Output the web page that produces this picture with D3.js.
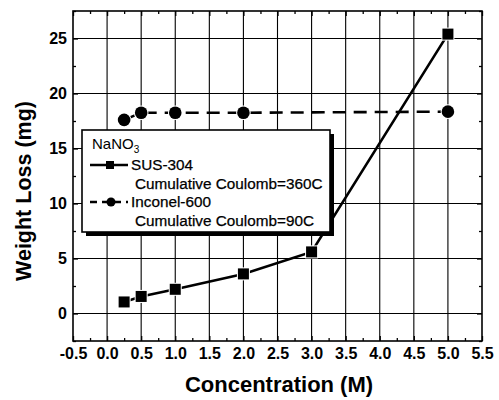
<!DOCTYPE html>
<html>
<head>
<meta charset="utf-8">
<script src="https://cdn.jsdelivr.net/npm/d3@7"></script>
<style>
  body { margin: 0; background: #fff; }
  svg { font-family: "Liberation Sans", Arial, sans-serif; }
</style>
</head>
<body>
<script>
// data
const susX = [0.25, 0.5, 1.0, 2.0, 3.0, 5.0];
const susY = [1.05, 1.55, 2.2, 3.6, 5.6, 25.4];
const incX = [0.25, 0.5, 1.0, 2.0, 5.0];
const incY = [17.6, 18.25, 18.25, 18.25, 18.35];
const xTicks = [-0.5, 0.0, 0.5, 1.0, 1.5, 2.0, 2.5, 3.0, 3.5, 4.0, 4.5, 5.0, 5.5];
const yTicks = [0, 5, 10, 15, 20, 25];
const legendLines = ['SUS-304', 'Cumulative Coulomb=360C', 'Inconel-600', 'Cumulative Coulomb=90C'];

const width = 499, height = 400;
const margin = {top: 11, right: 17, bottom: 59, left: 73};

const svg = d3.select('body').append('svg')
    .attr('width', width)
    .attr('height', height);

const w = width - margin.left - margin.right;
const h = height - margin.top - margin.bottom;

const x = d3.scaleLinear().domain([-0.5, 5.5]).range([0, w]);
const y = d3.scaleLinear().domain([-2.5, 27.5]).range([h, 0]);

const g = svg.append('g')
    .attr('transform', 'translate(' + margin.left + ',' + margin.top + ')');

// grid
g.append('g')
    .selectAll('line')
    .data(xTicks.slice(1, -1))
    .enter().append('line')
    .attr('x1', d => x(d)).attr('x2', d => x(d))
    .attr('y1', 0).attr('y2', h)
    .attr('stroke', '#000').attr('stroke-width', 1.1);

g.append('g')
    .selectAll('line')
    .data(yTicks)
    .enter().append('line')
    .attr('x1', 0).attr('x2', w)
    .attr('y1', d => y(d)).attr('y2', d => y(d))
    .attr('stroke', '#000').attr('stroke-width', 1.1);

// axes with inward ticks
const xMinor = d3.range(-0.25, 5.5, 0.5);
const yMinor = d3.range(-2.5, 27.6, 5);
const fmt = d => d3.format('.1f')(d).replace('\u2212', '-');

g.append('g')
    .attr('class', 'axis axis--x')
    .attr('transform', 'translate(0,' + h + ')')
    .call(d3.axisBottom(x).tickValues(xTicks).tickFormat(fmt).tickSizeInner(-5).tickSizeOuter(0).tickPadding(7));

g.append('g')
    .attr('transform', 'translate(0,' + h + ')')
    .call(d3.axisBottom(x).tickValues(xMinor).tickFormat('').tickSizeInner(-3).tickSizeOuter(0));

g.append('g')
    .call(d3.axisTop(x).tickValues(xTicks).tickFormat('').tickSizeInner(-5).tickSizeOuter(0));

g.append('g')
    .call(d3.axisTop(x).tickValues(xMinor).tickFormat('').tickSizeInner(-3).tickSizeOuter(0));

g.append('g')
    .attr('class', 'axis axis--y')
    .call(d3.axisLeft(y).tickValues(yTicks).tickSizeInner(-5).tickSizeOuter(0).tickPadding(6));

g.append('g')
    .call(d3.axisLeft(y).tickValues(yMinor).tickFormat('').tickSizeInner(-3).tickSizeOuter(0));

g.append('g')
    .attr('transform', 'translate(' + w + ',0)')
    .call(d3.axisRight(y).tickValues(yTicks).tickFormat('').tickSizeInner(-5).tickSizeOuter(0));

g.append('g')
    .attr('transform', 'translate(' + w + ',0)')
    .call(d3.axisRight(y).tickValues(yMinor).tickFormat('').tickSizeInner(-3).tickSizeOuter(0));

g.selectAll('.domain').attr('stroke', 'none');
g.selectAll('.tick line').attr('stroke', '#000').attr('stroke-width', 1.3);
g.selectAll('.axis text')
    .attr('font-size', 16)
    .attr('font-weight', 'bold')
    .attr('fill', '#000');

g.append('rect')
    .attr('width', w).attr('height', h)
    .attr('fill', 'none').attr('stroke', '#000').attr('stroke-width', 1.6);

// series
const sus = susX.map((d, i) => ({x: d, y: susY[i]}));
const inc = incX.map((d, i) => ({x: d, y: incY[i]}));

const line = d3.line().x(d => x(d.x)).y(d => y(d.y));

g.append('path')
    .datum(inc)
    .attr('d', line)
    .attr('fill', 'none')
    .attr('stroke', '#000')
    .attr('stroke-width', 2.6)
    .attr('stroke-dasharray', '13,8');

g.append('path')
    .datum(sus)
    .attr('d', line)
    .attr('fill', 'none')
    .attr('stroke', '#000')
    .attr('stroke-width', 2.6);

g.selectAll('.sq')
    .data(sus)
    .enter().append('rect')
    .attr('class', 'sq')
    .attr('x', d => x(d.x) - 5.5)
    .attr('y', d => y(d.y) - 5.5)
    .attr('width', 11).attr('height', 11)
    .attr('fill', '#000')
    .attr('stroke', '#fff').attr('stroke-width', 2)
    .attr('paint-order', 'stroke');

g.selectAll('.dot')
    .data(inc)
    .enter().append('circle')
    .attr('class', 'dot')
    .attr('cx', d => x(d.x))
    .attr('cy', d => y(d.y))
    .attr('r', 6.3)
    .attr('fill', '#000')
    .attr('stroke', '#fff').attr('stroke-width', 2)
    .attr('paint-order', 'stroke');

// legend
const lg = svg.append('g').attr('transform', 'translate(82,130)');
lg.append('rect')
    .attr('x', 4).attr('y', 4).attr('width', 248).attr('height', 102)
    .attr('fill', '#000');
lg.append('rect')
    .attr('width', 248).attr('height', 102)
    .attr('fill', '#fff').attr('stroke', '#000').attr('stroke-width', 1.6);

const nano = lg.append('text')
    .attr('x', 10).attr('y', 19)
    .attr('font-size', 15);
nano.append('tspan').text('NaNO');
nano.append('tspan').attr('font-size', 10).attr('dy', 4).text('3');

lg.selectAll('.lt')
    .data(legendLines)
    .enter().append('text')
    .attr('class', 'lt')
    .attr('x', (d, i) => i % 2 === 0 ? 49 : 53)
    .attr('y', (d, i) => 40 + i * 18.5)
    .attr('font-size', 15.3)
    .attr('stroke', '#000').attr('stroke-width', 0.25)
    .text(d => d);

lg.append('line')
    .attr('x1', 8).attr('x2', 46).attr('y1', 35).attr('y2', 35)
    .attr('stroke', '#000').attr('stroke-width', 2.6);
lg.append('rect')
    .attr('x', 24).attr('y', 31).attr('width', 8).attr('height', 8)
    .attr('fill', '#000');
lg.append('line')
    .attr('x1', 8).attr('x2', 46).attr('y1', 72).attr('y2', 72)
    .attr('stroke', '#000').attr('stroke-width', 2.6)
    .attr('stroke-dasharray', '7,5');
lg.append('circle')
    .attr('cx', 29).attr('cy', 72).attr('r', 4.5)
    .attr('fill', '#000');

// axis titles
svg.append('text')
    .attr('x', 279)
    .attr('y', 392)
    .attr('text-anchor', 'middle')
    .attr('font-size', 22)
    .attr('font-weight', 'bold')
    .text('Concentration (M)');

svg.append('text')
    .attr('transform', 'translate(31,191) rotate(-90)')
    .attr('text-anchor', 'middle')
    .attr('font-size', 21.5)
    .attr('font-weight', 'bold')
    .text('Weight Loss (mg)');
</script>
</body>
</html>
